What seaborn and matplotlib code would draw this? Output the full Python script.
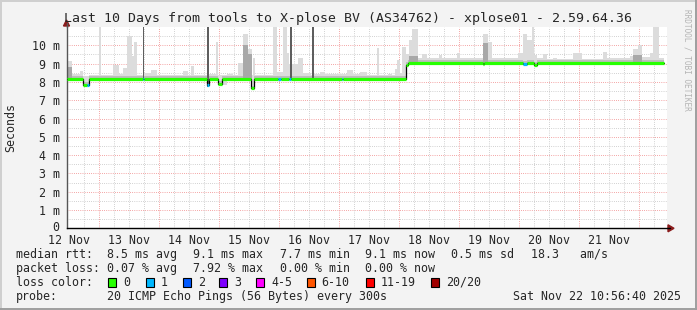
import numpy as np
import matplotlib
matplotlib.use("Agg")
import matplotlib.pyplot as plt
import matplotlib.transforms as mtransforms
import seaborn as sns
from matplotlib.patches import Rectangle, Polygon
from matplotlib.lines import Line2D

# ---------------- data (time in hours since 12 Nov 00:00, rtt in ms) ----------------
x_start, x_end = 10.944, 250.944

# light smoke (ping spread) upper envelope
smoke_edges = [11.0, 13.3, 16.5, 17.7, 20.1, 24.1, 24.9, 29.7, 32.1, 33.7,
               35.3, 37.3, 38.1, 39.3, 42.1, 44.9, 47.3, 57.7, 59.7, 60.9,
               62.1, 68.1, 70.9, 71.7, 75.3, 77.7, 79.7, 81.7, 83.7, 85.3,
               85.7, 86.5, 93.7, 95.3, 97.7, 99.3, 100.1, 101.3, 103.7, 105.7,
               108.9, 110.1, 112.5, 114.5, 123.3, 125.7, 128.5, 131.3, 135.3, 136.1,
               139.7, 141.3, 142.5, 143.3, 144.5, 145.3, 146.9, 148.1, 149.3, 151.7,
               153.3, 155.3, 160.1, 161.3, 167.3, 168.5, 177.7, 179.7, 181.3, 191.7,
               193.7, 195.3, 197.3, 198.1, 199.3, 201.7, 203.3, 205.7, 207.3, 213.7,
               217.3, 225.7, 227.3, 236.5, 237.7, 239.7, 241.3, 244.5, 245.7, 248.1,
               250.1]
smoke_top = [9.15, 8.45, 8.6, 8.3, 8.4, 11.5, 8.4, 8.9, 8.45, 8.75,
             10.5, 9.4, 10.2, 8.4, 8.5, 8.65, 8.4, 8.6, 8.4, 8.85,
             8.4, 8.45, 10.2, 8.4, 8.45, 8.4, 9.05, 10.6, 9.8, 8.4,
             9.3, 8.4, 11.5, 8.55, 11.5, 9.6, 9.0, 9.0, 9.3, 8.5,
             8.4, 8.45, 8.55, 8.45, 8.65, 8.45, 8.55, 8.4, 9.85, 8.4,
             8.45, 8.4, 8.7, 9.2, 8.5, 9.9, 9.5, 10.3, 10.9, 9.3,
             9.5, 9.3, 9.45, 9.3, 9.6, 9.3, 10.6, 10.2, 9.3, 9.6,
             10.6, 10.3, 11.5, 9.45, 9.3, 9.5, 9.25, 9.3, 9.25, 9.6,
             9.25, 9.65, 9.3, 9.4, 9.8, 10.0, 9.35, 9.6, 11.5, 9.3]

# denser (darker) smoke spots
dense_start = [11.0, 81.7, 83.7, 148.1, 177.7, 237.7]
dense_end = [13.3, 83.7, 85.3, 151.7, 179.7, 241.3]
dense_top = [8.8, 10.0, 9.5, 9.4, 10.1, 9.45]

# full-height dense columns
dark_start = [41.5, 67.3, 100.3, 109.3]
dark_end = [41.9, 67.9, 101.1, 109.9]
dark_bottom = [8.1, 7.7, 8.1, 8.1]

# median rtt (step function) and packet loss per step
med_edges = [11.0, 17.7, 19.1, 20.1, 41.5, 41.9, 67.3, 67.9, 71.7, 73.3,
             84.7, 85.9, 95.7, 96.9, 100.1, 100.9, 121.0, 121.7, 146.9, 147.7,
             177.5, 177.9, 193.7, 195.3, 198.1, 199.3, 250.1]
med_value = [8.14, 7.85, 7.85, 8.14, 8.14, 8.14, 7.85, 8.14, 7.88, 8.14,
             7.64, 8.14, 8.14, 8.14, 8.14, 8.14, 8.14, 8.14, 8.92, 9.03,
             8.97, 9.03, 8.96, 9.03, 8.95, 9.03]
med_loss = [0, 0, 1, 0, 1, 0, 1, 0, 0, 0,
            0, 0, 1, 0, 1, 0, 1, 0, 0, 0,
            0, 0, 1, 0, 0, 0]

loss_labels = ["0", "1", "2", "3", "4-5", "6-10", "11-19", "20/20"]
loss_colors = ["#26ff00", "#00b8ff", "#0059ff", "#7e00ff", "#ff00ff", "#ff5500", "#ff0000", "#a10000"]

y_ticks = [0, 1, 2, 3, 4, 5, 6, 7, 8, 9, 10]
y_ticklabels = ["0", "1 m", "2 m", "3 m", "4 m", "5 m", "6 m", "7 m", "8 m", "9 m", "10 m"]
x_ticks = [12, 36, 60, 84, 108, 132, 156, 180, 204, 228]
x_ticklabels = ["12 Nov", "13 Nov", "14 Nov", "15 Nov", "16 Nov",
                "17 Nov", "18 Nov", "19 Nov", "20 Nov", "21 Nov"]

title = "Last 10 Days from tools to X-plose BV (AS34762) - xplose01 - 2.59.64.36"
rtt_stats = ["8.5 ms avg", "9.1 ms max", "7.7 ms min", "9.1 ms now", "0.5 ms sd", "18.3   am/s"]
loss_stats = ["0.07 % avg", "7.92 % max", "0.00 % min", "0.00 % now"]
probe_text = "20 ICMP Echo Pings (56 Bytes) every 300s"
stamp = "Sat Nov 22 10:56:40 2025"

# ---------------- figure ----------------
sns.set_style("white")
plt.rcParams['font.family'] = ['DejaVu Sans Mono', 'DejaVu Sans']
FS = 8.4
W, H = 697, 310
fig = plt.figure(figsize=(W / 100, H / 100), dpi=100, facecolor='#f3f3f3')

L, R, T, B = 66.5, 666.5, 27.0, 228.3
ax = fig.add_axes([L / W, 1 - B / H, (R - L) / W, (B - T) / H])
ax.set_facecolor('white')
ax.set_xlim(x_start, x_end)
ax.set_ylim(0, 11)

dot = (0, (0.72, 1.44))
# grid
for v in np.arange(0.5, 11, 1.0):
    ax.axhline(v, color='#c4c4c4', lw=0.72, ls=dot, zorder=0)
for v in range(1, 11):
    ax.axhline(v, color='#f08a8a', lw=0.72, ls=dot, zorder=0)
for v in np.arange(18, 251, 6):
    if v % 24:
        ax.axvline(v, color='#c4c4c4', lw=0.72, ls=dot, zorder=0)
for v in range(24, 251, 24):
    ax.axvline(v, color='#f08a8a', lw=0.72, ls=dot, zorder=0)

# smoke
edges = np.array(smoke_edges)
idx = np.searchsorted(np.array(med_edges), edges[:-1], side='right') - 1
lower = np.array(med_value)[np.clip(idx, 0, len(med_value) - 1)] - 0.06
ax.fill_between(edges, np.append(lower, lower[-1]), np.append(smoke_top, smoke_top[-1]),
                step='post', color='#dcdcdc', lw=0, zorder=1)
# dense band close to the median
me = np.array(med_edges)
mv = np.array(med_value)
ax.fill_between(me, np.append(mv, mv[-1]) - 0.04, np.append(mv, mv[-1]) + 0.16,
                step='post', color='#bdbdbd', lw=0, zorder=2)
for s, e, t in zip(dense_start, dense_end, dense_top):
    ax.fill_between([s, e], [8.1 if s < 146.9 else 9.0] * 2, [t, t], color='#a8a8a8', lw=0, zorder=2)
for s, e, b in zip(dark_start, dark_end, dark_bottom):
    ax.bar((s + e) / 2, 12 - b, bottom=b, width=e - s, color='#5e5e5e', lw=0, zorder=3)

# median line
sx = list(med_edges)
sy = list(med_value) + [med_value[-1]]
sns.lineplot(x=sx, y=sy, ax=ax, color='black', lw=0.9, drawstyle='steps-post',
             estimator=None, sort=False, zorder=4)
for s, e, v, l in zip(med_edges[:-1], med_edges[1:], med_value, med_loss):
    ax.plot([s, e], [v, v], color=loss_colors[l], lw=2.3, solid_capstyle='butt', zorder=5)

# axes
for sp in ['top', 'right']:
    ax.spines[sp].set_visible(False)
ax.spines['bottom'].set_color('black')
ax.spines['bottom'].set_linewidth(1.0)
ax.spines['left'].set_color('#555555')
ax.spines['left'].set_linewidth(1.0)
ax.set_yticks(y_ticks)
ax.set_yticklabels(y_ticklabels, fontsize=FS, va='center_baseline')
ax.set_xticks(x_ticks)
ax.set_xticklabels(x_ticklabels, fontsize=FS)
ax.tick_params(axis='y', length=3, width=0.8, color='#666666', pad=2)
ax.tick_params(axis='x', length=0, pad=4.4)
ax.set_ylabel("")
# lift the "0" label a little so it clears the first date label
zero_lbl = ax.get_yticklabels()[0]
zero_lbl.set_transform(zero_lbl.get_transform() +
                       mtransforms.ScaledTranslation(0, 2.5 / 100, fig.dpi_scale_trans))

# axis extensions and arrows
def fx(x):
    return x / W

def fy(y):
    return 1 - y / H

fig.add_artist(Line2D([fx(R), fx(670)], [fy(B), fy(B)], color='black', lw=1.0))
fig.add_artist(Line2D([fx(L), fx(L)], [fy(T), fy(23)], color='#555555', lw=1.0))
fig.add_artist(Polygon([[fx(668), fy(224.8)], [fx(668), fy(231.8)], [fx(674), fy(228.3)]],
                       closed=True, color='#8b1c1c', transform=fig.transFigure))
fig.add_artist(Polygon([[fx(63.5), fy(26)], [fx(69.5), fy(26)], [fx(66.5), fy(20)]],
                       closed=True, color='#8b1c1c', transform=fig.transFigure))

# frame
fig.add_artist(Line2D([0, 1], [fy(0.7), fy(0.7)], color='#cfcfcf', lw=1.4))
fig.add_artist(Line2D([fx(0.7), fx(0.7)], [0, 1], color='#cfcfcf', lw=1.4))
fig.add_artist(Line2D([0, 1], [fy(309.2), fy(309.2)], color='#9e9e9e', lw=1.4))
fig.add_artist(Line2D([fx(696.2), fx(696.2)], [0, 1], color='#9e9e9e', lw=1.4))

# texts
fig.text(fx(348), fy(18.5), title, fontsize=9.5, ha='center', va='center')
fig.text(fx(11), fy(127.5), "Seconds", fontsize=FS, rotation=90, ha='center', va='center')
fig.text(fx(687.5), fy(60), "RRDTOOL / TOBI OETIKER", fontsize=5.6, rotation=270,
         ha='center', va='center', color='#b4b4b4')

col_x = [107.3, 193.3, 280, 365, 451, 530.7]
fig.text(fx(16), fy(254.3), "median rtt:", fontsize=FS, va='center')
for x, s in zip(col_x, rtt_stats):
    fig.text(fx(x), fy(254.3), s, fontsize=FS, va='center')
fig.text(fx(16), fy(268.3), "packet loss:", fontsize=FS, va='center')
for x, s in zip(col_x, loss_stats):
    fig.text(fx(x), fy(268.3), s, fontsize=FS, va='center')
fig.text(fx(16), fy(282.3), "loss color:", fontsize=FS, va='center')
box_x = [108.3, 145.7, 182.7, 219.3, 256, 306.7, 365.7, 430.7]
for x, lab, c in zip(box_x, loss_labels, loss_colors):
    fig.add_artist(Rectangle((fx(x), fy(286.5)), 8 / W, 9 / H, facecolor=c,
                             edgecolor='black', lw=0.8, transform=fig.transFigure))
    fig.text(fx(x + 15), fy(282.3), lab, fontsize=FS, va='center')
fig.text(fx(16), fy(296.3), "probe:", fontsize=FS, va='center')
fig.text(fx(107.3), fy(296.3), probe_text, fontsize=FS, va='center')
fig.text(fx(513.3), fy(296.3), stamp, fontsize=FS, va='center')

fig.savefig("out.png", dpi=100, facecolor=fig.get_facecolor())
